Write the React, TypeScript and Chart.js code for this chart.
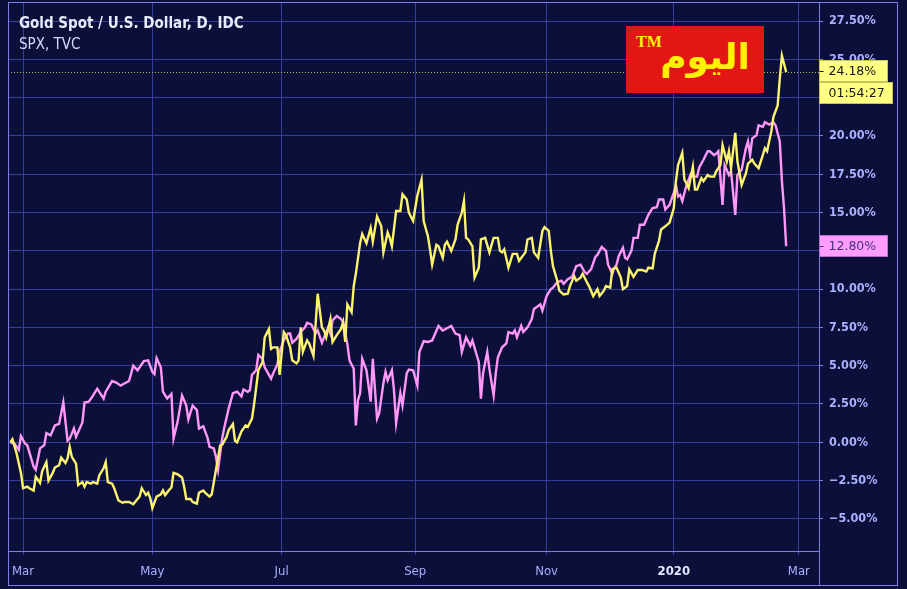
import React, { useEffect, useRef } from 'react';
import { Chart, registerables } from 'chart.js';

Chart.register(...registerables);

// ---- Data (x = days since 1 Mar 2019, y = % change) ----
const goldDays = [
  -6, -5, -3, -1, 0, 2, 3, 5, 6, 8, 9, 11, 12, 14, 15, 17, 18, 20, 21, 22, 23, 25, 26, 28, 29, 30, 32, 33, 35, 36,
  38, 39, 40, 42, 43, 45, 47, 48, 50, 52, 54, 55, 56, 58, 59, 60, 61, 63, 65, 66, 67, 69, 70, 71, 73, 75, 76, 77, 79, 80,
  82, 83, 85, 86, 88, 89, 91, 93, 94, 96, 97, 99, 100, 101, 103, 105, 106, 108, 109, 111, 113, 114, 116, 117, 118, 120, 121, 123, 124, 126,
  127, 129, 130, 131, 132, 134, 135, 137, 139, 141, 142, 143, 145, 146, 148, 150, 151, 152, 153, 155, 156, 157, 159, 160, 162, 164, 165, 167, 169, 170,
  172, 173, 174, 176, 178, 179, 181, 182, 184, 186, 188, 189, 191, 192, 193, 195, 196, 198, 199, 200, 202, 204, 205, 207, 208, 209, 210, 212, 213, 215,
  216, 218, 220, 222, 224, 225, 226, 227, 229, 231, 233, 234, 237, 238, 240, 241, 243, 245, 246, 248, 249, 250, 252, 253, 255, 257, 258, 260, 261, 263,
  264, 266, 267, 269, 271, 272, 274, 275, 277, 278, 280, 282, 283, 285, 286, 288, 290, 292, 294, 295, 297, 298, 300, 301, 303, 305, 307, 308, 309, 311,
  312, 313, 314, 316, 317, 318, 320, 321, 323, 324, 326, 327, 329, 330, 332, 333, 334, 336, 337, 339, 341, 342, 344, 345, 347, 349, 350, 351, 353, 354,
  356, 357, 358, 360,
];
const goldValues = [
  0, 0.2, -0.75, -2.0, -3.0, -2.9, -3.0, -3.15, -2.25, -2.65, -1.9, -1.3, -2.5, -2.0, -1.65, -1.5, -1.0, -1.35, -1.05, -0.3, -0.95, -1.4, -2.8, -2.6, -2.9, -2.6, -2.7, -2.6, -2.7, -2.15,
  -1.7, -1.3, -2.6, -2.7, -3.0, -3.8, -3.95, -3.9, -3.9, -4.05, -3.7, -3.55, -3.0, -3.45, -3.3, -3.65, -4.3, -3.55, -3.4, -3.15, -3.45, -3.1, -2.95, -2.0, -2.1, -2.3, -2.9, -3.7, -3.7, -3.9,
  -4.0, -3.3, -3.15, -3.3, -3.55, -3.4, -1.8, -0.2, -0.15, 0.35, 0.8, 1.2, 0.1, 0, 0.7, 1.1, 1.0, 1.55, 2.5, 4.7, 5.25, 6.85, 7.4, 6.1, 6.2, 6.2, 4.4, 7.2, 7.0, 6.2,
  5.35, 5.15, 5.35, 7.5, 5.9, 6.65, 6.45, 5.65, 9.7, 7.5, 7.3, 6.85, 8.05, 6.55, 7.0, 7.4, 7.85, 6.55, 9.0, 8.5, 10.2, 11.0, 13.0, 13.6, 13.0, 14.0, 13.1, 14.75, 14.1, 12.4,
  13.7, 13.35, 12.8, 15.1, 15.1, 16.2, 15.85, 15.0, 14.45, 16.1, 17.15, 14.45, 13.45, 12.6, 11.6, 12.9, 12.8, 12.05, 12.9, 13.1, 12.5, 13.25, 14.2, 15.0, 15.75, 13.35, 13.25, 12.8, 10.75, 11.4,
  13.25, 13.35, 12.4, 13.35, 13.35, 12.5, 12.4, 12.6, 11.4, 12.3, 12.3, 11.85, 12.4, 13.25, 13.35, 12.4, 12.05, 13.8, 14.05, 13.8, 12.5, 11.5, 10.55, 9.9, 9.65, 9.7, 10.2, 10.85, 10.55, 10.75,
  11.0, 10.45, 10.2, 9.55, 10.0, 9.55, 9.9, 10.2, 10.1, 11.3, 11.4, 10.75, 10.0, 10.2, 11.3, 10.8, 11.25, 11.25, 11.15, 11.4, 11.35, 12.3, 13.15, 13.9, 14.1, 14.35, 15.3, 17.05, 18.1, 18.9,
  17.15, 16.9, 16.6, 18.0, 16.5, 16.5, 17.25, 17.05, 17.45, 17.35, 17.35, 17.7, 18.1, 19.4, 18.35, 19.0, 17.9, 20.2, 18.35, 16.8, 17.55, 18.2, 18.45, 18.2, 17.9, 18.75, 19.2, 19.0, 20.3, 21.25,
  22.0, 23.75, 25.25, 24.18,
];

const spxDays = [
  -6, -4, -2, -1, 1, 2, 5, 6, 8, 10, 11, 13, 15, 17, 19, 21, 22, 24, 25, 28, 29, 31, 33, 35, 38, 39, 42, 44, 46, 48,
  50, 52, 54, 55, 57, 59, 61, 62, 63, 65, 66, 68, 70, 71, 73, 75, 77, 78, 80, 82, 83, 85, 87, 88, 90, 91, 92, 94, 95, 97,
  99, 101, 103, 104, 106, 107, 108, 110, 111, 113, 114, 116, 117, 118, 120, 121, 123, 125, 126, 127, 129, 131, 133, 134, 136, 138, 139, 141, 142, 144,
  145, 146, 148, 150, 151, 153, 154, 156, 157, 158, 159, 160, 162, 164, 165, 167, 168, 170, 171, 172, 174, 175, 176, 178, 179, 181, 182, 184, 186, 187,
  189, 191, 193, 196, 198, 200, 202, 204, 206, 207, 209, 211, 212, 214, 215, 216, 217, 219, 220, 222, 223, 224, 226, 228, 229, 231, 232, 233, 235, 236,
  238, 240, 241, 242, 244, 245, 247, 249, 250, 252, 254, 255, 257, 259, 261, 263, 265, 266, 268, 270, 271, 273, 275, 276, 278, 279, 280, 281, 283, 284,
  285, 287, 288, 290, 291, 293, 295, 297, 299, 300, 302, 303, 305, 307, 308, 309, 310, 311, 313, 315, 316, 318, 319, 321, 323, 324, 326, 327, 328, 330,
  331, 333, 334, 336, 337, 339, 341, 342, 343, 344, 346, 347, 349, 350, 352, 354, 355, 357, 358, 359, 360,
];
const spxValues = [
  0, -0.1, -0.5, 0.4, -0.1, -0.2, -1.6, -1.8, -0.4, -0.2, 0.6, 0.45, 1.1, 1.2, 2.6, 0.1, 0.24, 0.9, 0.35, 1.3, 2.6, 2.65, 3.05, 3.5, 2.85, 3.3, 4.0, 3.9, 3.7, 3.85,
  4.0, 5.0, 4.7, 4.9, 5.3, 5.35, 4.6, 4.45, 5.5, 4.9, 3.3, 2.85, 3.15, 0.24, 1.4, 3.05, 2.4, 1.5, 2.4, 2.1, 0.9, 1.05, 0.3, -0.3, -0.4, -0.95, -1.8, 0.3, 1.0, 2.2,
  3.2, 3.3, 3.0, 3.45, 3.3, 3.4, 4.4, 4.7, 5.7, 5.45, 4.9, 4.4, 4.15, 4.5, 5.1, 5.9, 6.65, 7.1, 7.1, 6.5, 6.75, 7.2, 7.5, 7.8, 7.7, 7.1, 7.3, 6.5, 6.85, 7.5,
  7.1, 7.95, 8.25, 8.05, 7.85, 6.4, 5.35, 4.8, 1.1, 2.75, 3.2, 5.45, 4.7, 2.65, 5.45, 1.55, 1.9, 3.85, 4.6, 4.05, 4.7, 3.4, 1.25, 3.2, 2.4, 4.5, 4.75, 4.7, 3.7, 5.9,
  6.6, 6.55, 6.65, 7.6, 7.3, 7.45, 7.6, 7.1, 7.0, 5.9, 6.85, 6.3, 6.65, 5.7, 5.25, 2.85, 4.5, 5.9, 4.8, 3.05, 4.5, 5.55, 6.2, 6.45, 7.2, 7.1, 7.3, 6.85, 7.6, 7.2,
  7.5, 8.05, 8.7, 8.8, 9.0, 8.6, 9.55, 10.0, 10.1, 10.45, 10.55, 10.35, 10.65, 10.8, 11.5, 11.6, 11.1, 11.0, 11.3, 12.1, 12.25, 12.75, 12.5, 11.6, 11.0, 11.4, 11.6, 12.15, 12.7, 12.05,
  11.95, 12.5, 13.35, 13.35, 14.2, 14.2, 14.85, 15.3, 15.35, 15.85, 15.85, 15.2, 15.5, 16.3, 16.8, 16.05, 16.15, 15.75, 16.8, 17.5, 17.35, 17.35, 17.95, 18.45, 19.0, 19.0, 18.75, 18.85, 19.0, 15.5,
  18.1, 17.45, 17.7, 14.85, 17.45, 17.8, 19.2, 19.65, 18.75, 19.85, 20.05, 20.7, 20.6, 20.9, 20.75, 20.9, 20.7, 19.65, 17.05, 15.3, 12.8,
];

const xTickDays = [0, 61, 122, 185, 247, 307, 366];
const xTickLabels = ['Mar', 'May', 'Jul', 'Sep', 'Nov', '2020', 'Mar'];
const yTicks = [-5, -2.5, 0, 2.5, 5, 7.5, 10, 12.5, 15, 17.5, 20, 22.5, 25, 27.5];
const countdownText = '01:54:27';

// ---- Styles ----
const BG = '#0c0f3a';
const GRID = '#343f9c';
const FRAME = '#7b80e6';
const LABEL = '#aab2ff';
const GOLD = '#fbf46c';
const PINK = '#ff98f8';
const FONT = "'DejaVu Sans Condensed', 'DejaVu Sans', sans-serif";

function fmtPct(v: number) {
  const s = Math.abs(v).toFixed(2) + '%';
  return v < 0 ? '\u2212' + s : s;
}

export default function App() {
  const ref = useRef<HTMLCanvasElement>(null);

  useEffect(() => {
    const canvas = ref.current;
    if (!canvas) return;

    const overlay = {
      id: 'tvOverlay',
      beforeDatasetsDraw(chart: any) {
        const { ctx, chartArea: a, scales } = chart;
        const last = goldValues[goldValues.length - 1];
        const yp = Math.round(scales.y.getPixelForValue(last)) + 0.5;
        ctx.save();
        ctx.strokeStyle = '#bdb66a';
        ctx.lineWidth = 1;
        ctx.setLineDash([1, 2]);
        ctx.beginPath();
        ctx.moveTo(a.left, yp);
        ctx.lineTo(a.right, yp);
        ctx.stroke();
        ctx.restore();
      },
      afterDraw(chart: any) {
        const { ctx, chartArea: a, scales } = chart;
        const xs = scales.x;
        const ys = scales.y;
        ctx.save();
        ctx.strokeStyle = FRAME;
        ctx.lineWidth = 1;
        ctx.setLineDash([]);
        // outer frame
        ctx.strokeRect(a.left + 0.5, a.top + 0.5, ys.right - a.left - 1, xs.bottom - a.top);
        // axis separators
        ctx.beginPath();
        ctx.moveTo(a.right + 0.5, a.top);
        ctx.lineTo(a.right + 0.5, xs.bottom);
        ctx.moveTo(a.left, a.bottom + 0.5);
        ctx.lineTo(a.right, a.bottom + 0.5);
        ctx.stroke();

        const badge = (val: number, text: string, bg: string, border: string, color: string, w: number, dy: number, tick: boolean) => {
          const yc = Math.round(ys.getPixelForValue(val)) + dy;
          const x0 = a.right + 0.5;
          ctx.fillStyle = bg;
          ctx.fillRect(x0, yc - 11, w, 21);
          ctx.strokeStyle = border;
          ctx.strokeRect(x0, yc - 10.5, w, 21);
          if (tick) {
            ctx.strokeStyle = color;
            ctx.beginPath();
            ctx.moveTo(x0, yc + 0.5);
            ctx.lineTo(x0 + 4, yc + 0.5);
            ctx.stroke();
          }
          ctx.fillStyle = color;
          ctx.font = "12.5px 'DejaVu Sans', sans-serif";
          ctx.textBaseline = 'middle';
          ctx.textAlign = 'left';
          ctx.fillText(text, x0 + 9, yc + 1);
        };
        const g = goldValues[goldValues.length - 1];
        const s = spxValues[spxValues.length - 1];
        badge(g, fmtPct(g), '#ffff82', '#c9c25a', '#161616', 68, -1, true);
        badge(g, countdownText, '#ffff82', '#c9c25a', '#161616', 73, 21, false);
        badge(s, fmtPct(s), '#ff9dff', '#b66fd6', '#46307e', 68, 0, true);
        ctx.restore();
      },
    };

    const chart = new Chart(canvas, {
      type: 'line',
      data: {
        datasets: [
          {
            label: 'Gold Spot / U.S. Dollar',
            data: goldDays.map((d, i) => ({ x: d, y: goldValues[i] })),
            borderColor: GOLD,
            borderWidth: 2.4,
            pointRadius: 0,
            tension: 0,
            fill: false,
          },
          {
            label: 'SPX',
            data: spxDays.map((d, i) => ({ x: d, y: spxValues[i] })),
            borderColor: PINK,
            borderWidth: 2.4,
            pointRadius: 0,
            tension: 0,
            fill: false,
          },
        ],
      },
      options: {
        animation: false,
        responsive: false,
        devicePixelRatio: 1,
        layout: { padding: { left: 8, top: 2, right: 9, bottom: 4 } },
        plugins: { legend: { display: false }, tooltip: { enabled: false } },
        scales: {
          x: {
            type: 'linear',
            position: 'bottom',
            min: -7.1,
            max: 375.5,
            afterBuildTicks: (s: any) => {
              s.ticks = xTickDays.map((v) => ({ value: v }));
            },
            afterFit: (s: any) => {
              s.height = 34;
              s.paddingLeft = 0;
              s.paddingRight = 0;
            },
            grid: { color: GRID, lineWidth: 1, drawTicks: true, tickLength: 4, tickColor: GRID },
            border: { display: false },
            ticks: {
              autoSkip: false,
              maxRotation: 0,
              padding: 9,
              callback: (v: any) => {
                const i = xTickDays.indexOf(Number(v));
                return i >= 0 ? xTickLabels[i] : '';
              },
              color: (c: any) => (c.tick && xTickLabels[xTickDays.indexOf(c.tick.value)] === '2020' ? '#e6e8ff' : LABEL),
              font: (c: any) => ({
                family: FONT,
                size: 13,
                weight: c.tick && xTickLabels[xTickDays.indexOf(c.tick.value)] === '2020' ? 'bold' : 'normal',
              }),
            },
          },
          y: {
            type: 'linear',
            position: 'right',
            min: -7.1,
            max: 28.75,
            afterBuildTicks: (s: any) => {
              s.ticks = yTicks.map((v) => ({ value: v }));
            },
            afterFit: (s: any) => {
              s.width = 79;
              s.paddingTop = 0;
              s.paddingBottom = 0;
            },
            grid: { color: GRID, lineWidth: 1, drawTicks: true, tickLength: 4, tickColor: FRAME },
            border: { display: false },
            ticks: {
              padding: 6,
              color: LABEL,
              font: { family: FONT, size: 12.5, weight: 'bold' },
              callback: (v: any) => fmtPct(Number(v)),
            },
          },
        },
      },
      plugins: [overlay],
    } as any);

    return () => chart.destroy();
  }, []);

  return (
    <div style={{ position: 'fixed', left: 0, top: 0, width: 907, height: 589, background: BG, overflow: 'hidden' }}>
      <canvas ref={ref} width={907} height={589} style={{ position: 'absolute', left: 0, top: 0, width: 907, height: 589 }} />
      <div
        style={{
          position: 'absolute',
          left: 19,
          top: 14,
          fontFamily: FONT,
          fontWeight: 'bold',
          fontSize: 15,
          lineHeight: '18px',
          color: '#e8eaff',
          whiteSpace: 'nowrap',
        }}
      >
        Gold Spot / U.S. Dollar, D, IDC
      </div>
      <div
        style={{
          position: 'absolute',
          left: 19,
          top: 35,
          fontFamily: FONT,
          fontSize: 15,
          lineHeight: '18px',
          color: '#d6d9ff',
          whiteSpace: 'nowrap',
        }}
      >
        SPX, TVC
      </div>
      <div style={{ position: 'absolute', left: 626, top: 26, width: 138, height: 67, background: '#e31616' }}>
        <div
          style={{
            position: 'absolute',
            left: 10,
            top: 8,
            fontFamily: "'Liberation Serif', 'DejaVu Serif', serif",
            fontWeight: 'bold',
            fontSize: 16,
            lineHeight: '16px',
            color: '#fff200',
          }}
        >
          TM
        </div>
        <div
          dir="rtl"
          style={{
            position: 'absolute',
            left: 34,
            top: 6,
            width: 90,
            textAlign: 'center',
            fontFamily: "'DejaVu Sans', sans-serif",
            fontWeight: 'bold',
            fontSize: 36,
            lineHeight: '50px',
            color: '#fff200',
          }}
        >
          اليوم
        </div>
      </div>
    </div>
  );
}
